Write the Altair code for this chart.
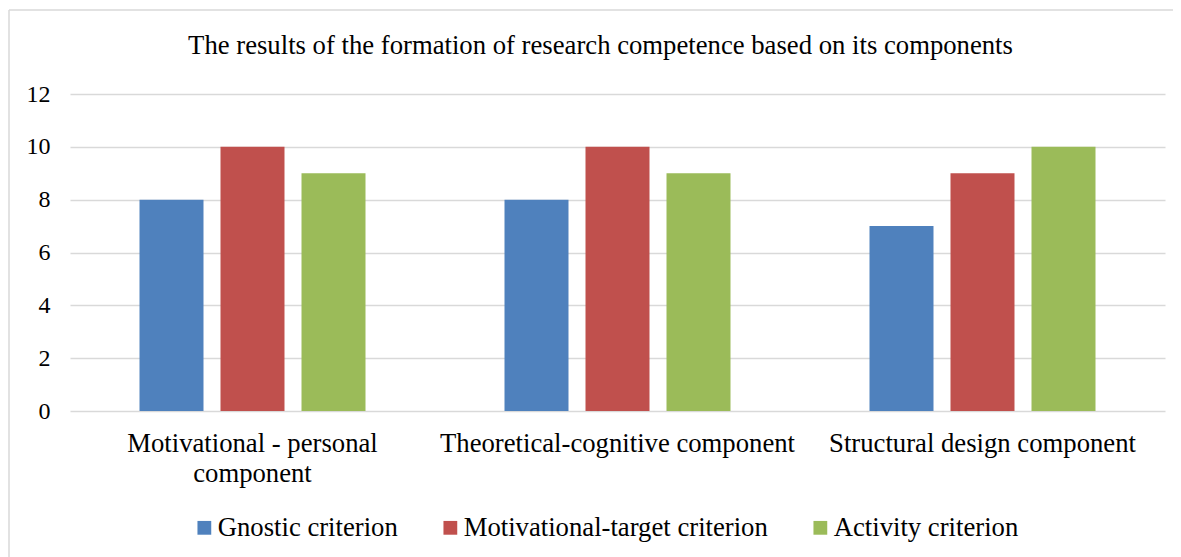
import altair as alt
import pandas as pd

components = ["Motivational - personal component", "Theoretical-cognitive component", "Structural design component"]
criteria = ["Gnostic criterion", "Motivational-target criterion", "Activity criterion"]
gnostic = [8, 8, 7]
motivational_target = [10, 10, 9]
activity = [9, 9, 10]
colors = ["#4f81bd", "#c0504d", "#9bbb59"]
y_ticks = [0, 2, 4, 6, 8, 10, 12]
title_text = "The results of the formation of research competence based on its components"

rows = []
for series_name, vals in zip(criteria, [gnostic, motivational_target, activity]):
    for comp, v in zip(components, vals):
        rows.append({"component": comp, "criterion": series_name, "value": v})
df = pd.DataFrame(rows)

FONT = "Liberation Serif"
FS = 26.7
W, H = 1095, 317

bars = alt.Chart(df).mark_bar().encode(
    x=alt.X("component:N", sort=components,
            scale=alt.Scale(paddingInner=0, paddingOuter=0),
            axis=alt.Axis(title=None, labelAngle=0, ticks=False, domain=False, grid=False,
                          labelFontSize=FS, labelPadding=19, labelColor="#000", labelLimit=0,
                          labelFont=FONT, labelLineHeight=30,
                          labelExpr="datum.label == 'Motivational - personal component' ? ['Motivational - personal', 'component'] : datum.label")),
    xOffset=alt.XOffset("criterion:N", sort=criteria,
                        scale=alt.Scale(paddingInner=0.21, paddingOuter=0.858)),
    y=alt.Y("value:Q", scale=alt.Scale(domain=[0, 12]),
            axis=alt.Axis(title=None, values=y_ticks, ticks=False, domain=False,
                          gridColor="#d9d9d9", gridWidth=1.5, labelFontSize=24,
                          labelPadding=20, labelColor="#000", labelFont=FONT)),
    color=alt.Color("criterion:N", sort=criteria,
                    scale=alt.Scale(domain=criteria, range=colors),
                    legend=alt.Legend(orient="none", legendX=121, legendY=420,
                                      direction="horizontal", title=None,
                                      symbolType="square", symbolSize=190,
                                      symbolStrokeWidth=0, labelFontSize=FS,
                                      labelFont=FONT, labelColor="#000",
                                      labelOffset=0, columnPadding=39,
                                      padding=0, labelLimit=0)),
)

frame_df = pd.DataFrame({"a": [0]})
frame_left = alt.Chart(frame_df).mark_rule(color="#d9d9d9", strokeWidth=1.5).encode(
    x=alt.value(-61), y=alt.value(-84), y2=alt.value(H + 160))
frame_top = alt.Chart(frame_df).mark_rule(color="#d9d9d9", strokeWidth=1.5).encode(
    x=alt.value(-61), x2=alt.value(W + 20), y=alt.value(-84))
title_mark = alt.Chart(frame_df).mark_text(
    text=title_text, font=FONT, fontSize=FS, color="#000",
    align="center", baseline="alphabetic").encode(
    x=alt.value(530.5), y=alt.value(-40))

chart = alt.layer(frame_left, frame_top, title_mark, bars).properties(
    width=W, height=H,
    autosize=alt.AutoSizeParams(type="none"),
    padding={"left": 62, "top": 86, "right": 8, "bottom": 146},
).configure_view(stroke=None)

chart.save("out.html", embed_options={"renderer": "svg", "actions": False})
